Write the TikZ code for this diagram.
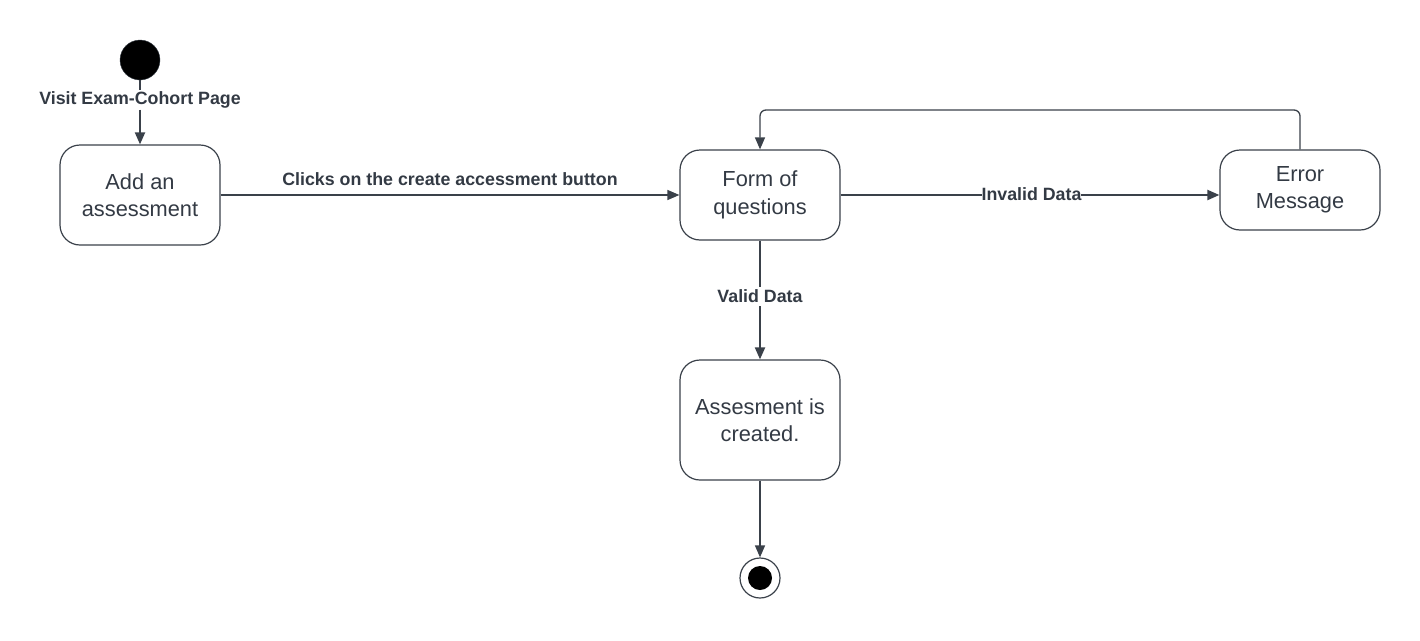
\documentclass[tikz,border=0pt]{standalone}
\usepackage{fontspec}
\setmainfont{Liberation Sans}
\usetikzlibrary{arrows.meta}
\definecolor{ln}{HTML}{3A414A}
\definecolor{tx}{HTML}{333A44}
\tikzset{
  state/.style={draw=ln, line width=1.2pt, rounded corners=20pt, minimum width=160pt, text=tx, font=\fontsize{21.8}{27.5}\selectfont, align=center, inner sep=0pt},
  lbl/.style={text=tx, font=\fontsize{17.8}{21}\selectfont\bfseries, inner sep=1pt},
  arr/.style={draw=ln, line width=1.3pt, -{Triangle[length=12pt,width=10pt]}},
  arrb/.style={draw=ln, line width=2pt, -{Triangle[length=12pt,width=10pt]}},
}
\begin{document}
\begin{tikzpicture}[x=1pt,y=-1pt]
\useasboundingbox (0,0) rectangle (1420,640);
\node[circle, fill=black, draw=ln, minimum size=40pt, inner sep=0pt] (start) at (140,60) {};
\node[lbl, fill=white] (visit) at (140,100) {Visit Exam-Cohort Page};
\node[state, minimum height=100pt] (add) at (140,195) {Add an\\assessment};
\node[state, minimum height=90pt] (form) at (760,195) {Form of\\questions};
\node[state, minimum height=80pt] (err) at (1300,190) {Error\\Message};
\node[state, minimum height=120pt] (done) at (760,420) {Assesment is\\created.};
\node[circle, draw=ln, line width=1.2pt, minimum size=40pt, inner sep=0pt] (end) at (760,578) {};
\node[circle, fill=black, minimum size=24pt, inner sep=0pt] (endin) at (760,578) {};
\coordinate (c1) at (1300,110);
\coordinate (c2) at (760,110);

\draw[draw=ln, line width=1.5pt] (start.south) -- (visit.north);
\draw[arrb] (visit.south) -- (add.north);
\draw[arr] (add.east) -- node[lbl, above=8pt] (lclick) {Clicks on the create accessment button} (form.west);
\draw[arrb] (form.east) -- node[lbl, fill=white, inner sep=0pt, pos=0.504, yshift=1pt] (linv) {Invalid Data} (err.west |- form.east);
\draw[arr, rounded corners=6pt] (err.north) -- (c1) -- (c2) -- (form.north);
\draw[arrb] (form.south) -- node[lbl, fill=white, inner sep=3pt, pos=0.47] (lval) {Valid Data} (done.north);
\draw[arr] (done.south) -- (end.north);
\end{tikzpicture}
\end{document}
